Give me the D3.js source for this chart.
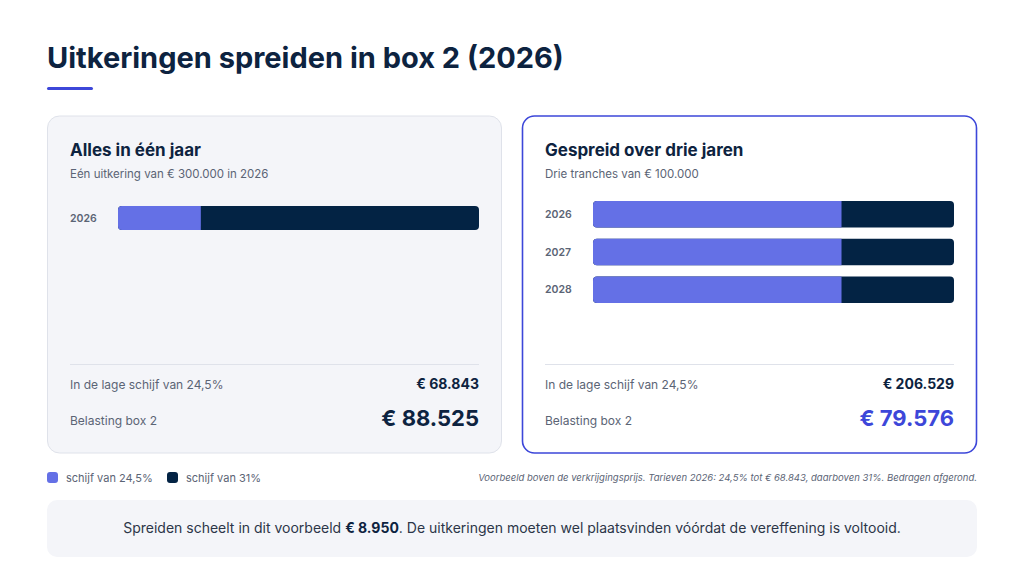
<!DOCTYPE html>
<html><head><meta charset="utf-8">
<script src="https://cdn.jsdelivr.net/npm/d3@7"></script>
<style>body{margin:0;background:#fff}svg{display:block;font-family:Inter,"Noto Sans",sans-serif}</style>
</head><body><svg id="c" width="1024" height="572"></svg>
<script>
// ── Data ─────────────────────────────────
const panels = [
  { title: 'Alles in één jaar', sub: 'Eén uitkering van € 300.000 in 2026', low: '€ 68.843', tax: '€ 88.525' },
  { title: 'Gespreid over drie jaren', sub: 'Drie tranches van € 100.000', low: '€ 206.529', tax: '€ 79.576' }
];
const years  = [['2026'], ['2026', '2027', '2028']];
const lowPart  = [[68843], [68843, 68843, 68843]];
const highPart = [[231157], [31157, 31157, 31157]];
const legend = ['schijf van 24,5%', 'schijf van 31%'];
const COL = { low: '#6470e6', high: '#032344', ink: '#0d2340', grey: '#5b6475', accent: '#3d47d9' };

const svg = d3.select('#c');
svg.append('text').attr('x', 47).attr('y', 68).attr('font-size', 29).attr('font-weight', 700)
  .attr('fill', COL.ink).text('Uitkeringen spreiden in box 2 (2026)');
svg.append('rect').attr('x', 47).attr('y', 87).attr('width', 46).attr('height', 3).attr('rx', 1.5).attr('fill', COL.accent);

panels.forEach((p, i) => {
  const x0 = i ? 522 : 47;
  const g = svg.append('g').attr('transform', `translate(${x0},0)`);
  g.append('rect').attr('x', 0.5).attr('y', 116).attr('width', 454).attr('height', 337).attr('rx', 12)
    .attr('fill', i ? '#fff' : '#f4f5f9').attr('stroke', i ? COL.accent : '#dfe2ea').attr('stroke-width', i ? 1.6 : 1);
  g.append('text').attr('x', 23).attr('y', 156).attr('font-size', 17).attr('font-weight', 700).attr('fill', COL.ink).text(p.title);
  g.append('text').attr('x', 23).attr('y', 178).attr('font-size', 11.5).attr('fill', COL.grey).text(p.sub);

  const x = d3.scaleLinear().domain([0, 300000 / years[i].length]).range([71, 432]);
  const y = d3.scaleBand().domain(years[i]).range([201, 201 + 34 * years[i].length]).paddingInner(10 / 34);
  years[i].forEach((yr, k) => {
    g.append('text').attr('x', 23).attr('y', y(yr) + y.bandwidth() / 2).attr('dy', '0.35em')
      .attr('font-size', 10.5).attr('font-weight', 600).attr('fill', COL.grey).text(yr);
    g.append('rect').attr('x', x(0)).attr('y', y(yr)).attr('width', x(lowPart[i][k] + highPart[i][k]) - x(0))
      .attr('height', y.bandwidth()).attr('rx', 4).attr('fill', COL.high);
    g.append('path').attr('fill', COL.low).attr('d', (() => {
      const a = x(0), b = x(lowPart[i][k]), t = y(yr), h = y.bandwidth(), r = 4;
      return `M${a + r},${t}H${b}V${t + h}H${a + r}Q${a},${t + h} ${a},${t + h - r}V${t + r}Q${a},${t} ${a + r},${t}Z`;
    })());
  });

  g.append('line').attr('x1', 23).attr('x2', 432).attr('y1', 364.5).attr('y2', 364.5).attr('stroke', '#dfe2ea');
  g.append('text').attr('x', 23).attr('y', 389).attr('font-size', 12).attr('fill', COL.grey).text('In de lage schijf van 24,5%');
  g.append('text').attr('x', 432).attr('y', 389).attr('text-anchor', 'end').attr('font-size', 14).attr('font-weight', 700).attr('fill', COL.ink).text(p.low);
  g.append('text').attr('x', 23).attr('y', 425).attr('font-size', 12).attr('fill', COL.grey).text('Belasting box 2');
  g.append('text').attr('x', 432).attr('y', 426).attr('text-anchor', 'end').attr('font-size', 22).attr('font-weight', 700)
    .attr('fill', i ? COL.accent : COL.ink).text(p.tax);
});

// legend
[[47, COL.low], [167, COL.high]].forEach(([lx, c], k) => {
  svg.append('rect').attr('x', lx).attr('y', 472).attr('width', 11).attr('height', 11).attr('rx', 3).attr('fill', c);
  svg.append('text').attr('x', lx + 19).attr('y', 482).attr('font-size', 11).attr('fill', COL.grey).text(legend[k]);
});
svg.append('text').attr('x', 977).attr('y', 481).attr('text-anchor', 'end').attr('font-size', 9.5).attr('font-style', 'italic')
  .attr('fill', COL.grey).text('Voorbeeld boven de verkrijgingsprijs. Tarieven 2026: 24,5% tot € 68.843, daarboven 31%. Bedragen afgerond.');

svg.append('rect').attr('x', 47).attr('y', 500).attr('width', 930).attr('height', 57).attr('rx', 10).attr('fill', '#f4f5f9');
const t = svg.append('text').attr('x', 512).attr('y', 533).attr('text-anchor', 'middle').attr('font-size', 14).attr('fill', '#2c3648');
t.append('tspan').text('Spreiden scheelt in dit voorbeeld ');
t.append('tspan').attr('font-weight', 700).attr('fill', COL.ink).text('€ 8.950');
t.append('tspan').text('. De uitkeringen moeten wel plaatsvinden vóórdat de vereffening is voltooid.');
</script></body></html>
